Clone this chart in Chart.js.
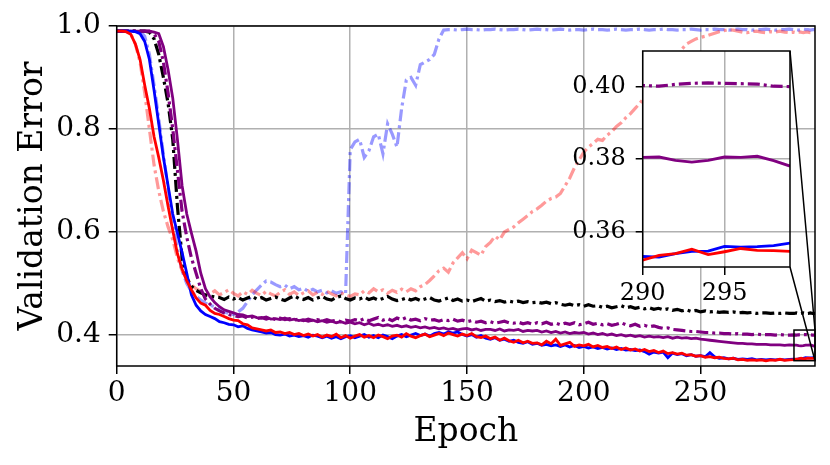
<!DOCTYPE html>
<html>
<head>
<meta charset="utf-8">
<script src="https://cdn.jsdelivr.net/npm/chart.js@4.4.0/dist/chart.umd.min.js"></script>
<style>
  html, body { margin: 0; padding: 0; background: #fff; }
  #wrap { position: relative; width: 830px; height: 465px; }
  #wrap canvas { position: absolute; left: 0; top: 0; }
</style>
</head>
<body>
<div id="wrap">
  <canvas id="mainChart" width="830" height="465"></canvas>
  <canvas id="insetChart" width="830" height="465"></canvas>
</div>
<script>
// epochs: every 2nd epoch up to 288, then every epoch in the zoomed window
const epochs = [];
for (let e = 0; e < 290; e += 2) epochs.push(e);
for (let e = 290; e < 300; e++) epochs.push(e);

const xTicks = [0, 50, 100, 150, 200, 250];
const yTicks = [0.4, 0.6, 0.8, 1.0];
const insetXTicks = [290, 295];
const insetYTicks = [0.36, 0.38, 0.40];
const zoomX = [290, 299];
const zoomY = [0.3503, 0.4098];

const redSolid = [
  0.990, 0.990, 0.989, 0.984, 0.965, 0.935, 0.885, 0.840, 0.785, 0.745,
  0.700, 0.650, 0.603, 0.558, 0.528, 0.505, 0.488, 0.472, 0.462, 0.458,
  0.448, 0.442, 0.440, 0.436, 0.432, 0.429, 0.428, 0.422, 0.420, 0.414,
  0.412, 0.410, 0.408, 0.410, 0.405, 0.406, 0.403, 0.405, 0.401, 0.403,
  0.399, 0.402, 0.398, 0.401, 0.396, 0.400, 0.397, 0.402, 0.395, 0.399,
  0.394, 0.398, 0.401, 0.396, 0.399, 0.395, 0.400, 0.397, 0.393, 0.398,
  0.400, 0.396, 0.403, 0.398, 0.395, 0.399, 0.402, 0.397, 0.400, 0.403,
  0.399, 0.404, 0.401, 0.398, 0.402, 0.399, 0.403, 0.397, 0.395, 0.398,
  0.393, 0.396, 0.390, 0.394, 0.389, 0.386, 0.390, 0.385, 0.388, 0.384,
  0.385, 0.381, 0.388, 0.383, 0.392, 0.380, 0.383, 0.386, 0.378, 0.381,
  0.379, 0.382, 0.377, 0.380, 0.376, 0.378, 0.374, 0.377, 0.372, 0.375,
  0.371, 0.373, 0.369, 0.372, 0.368, 0.370, 0.366, 0.369, 0.364, 0.366,
  0.363, 0.365, 0.361, 0.362, 0.359, 0.360, 0.357, 0.358, 0.356, 0.357,
  0.355, 0.354, 0.355, 0.352, 0.353, 0.351, 0.352, 0.351, 0.352, 0.350,
  0.352, 0.351, 0.353, 0.351, 0.352,
  0.3522, 0.3535, 0.3540, 0.3552, 0.3537, 0.3545, 0.3554, 0.3549, 0.3548, 0.3546
];

const blueSolid = [
  0.990, 0.990, 0.990, 0.990, 0.989, 0.985, 0.970, 0.935, 0.875, 0.810,
  0.745, 0.690, 0.635, 0.598, 0.560, 0.520, 0.478, 0.458, 0.447, 0.440,
  0.436, 0.432, 0.426, 0.424, 0.421, 0.420, 0.416, 0.418, 0.413, 0.410,
  0.408, 0.406, 0.404, 0.405, 0.401, 0.400, 0.402, 0.398, 0.400, 0.397,
  0.399, 0.396, 0.400, 0.398, 0.395, 0.398, 0.394, 0.397, 0.393, 0.397,
  0.399, 0.395, 0.398, 0.401, 0.396, 0.399, 0.395, 0.400, 0.397, 0.393,
  0.398, 0.401, 0.397, 0.400, 0.403, 0.399, 0.402, 0.398, 0.403, 0.405,
  0.402, 0.406, 0.404, 0.406, 0.401, 0.398, 0.401, 0.396, 0.399, 0.394,
  0.392, 0.395, 0.390, 0.392, 0.388, 0.390, 0.386, 0.384, 0.387, 0.382,
  0.384, 0.380, 0.382, 0.379, 0.381, 0.378, 0.381, 0.377, 0.380, 0.376,
  0.378, 0.375, 0.377, 0.374, 0.376, 0.373, 0.375, 0.372, 0.374, 0.371,
  0.372, 0.370, 0.371, 0.368, 0.363, 0.367, 0.365, 0.367, 0.356, 0.365,
  0.362, 0.364, 0.360, 0.362, 0.359, 0.360, 0.358, 0.366, 0.358, 0.355,
  0.356, 0.354, 0.355, 0.353, 0.354, 0.353, 0.354, 0.352, 0.353, 0.352,
  0.353, 0.352, 0.353, 0.352, 0.353,
  0.3532, 0.3530, 0.3540, 0.3546, 0.3547, 0.3560, 0.3558, 0.3559, 0.3562, 0.3569
];

const purpleSolid = [
  0.990, 0.990, 0.990, 0.990, 0.990, 0.990, 0.990, 0.990, 0.988, 0.985,
  0.960, 0.915, 0.860, 0.780, 0.690, 0.635, 0.598, 0.563, 0.520, 0.490,
  0.474, 0.463, 0.455, 0.449, 0.446, 0.443, 0.440, 0.439, 0.436, 0.437,
  0.434, 0.433, 0.435, 0.431, 0.432, 0.430, 0.433, 0.429, 0.431, 0.428,
  0.430, 0.427, 0.429, 0.426, 0.428, 0.425, 0.427, 0.424, 0.426, 0.423,
  0.425, 0.422, 0.424, 0.420, 0.423, 0.419, 0.421, 0.418, 0.420, 0.417,
  0.419, 0.416, 0.418, 0.415, 0.417, 0.414, 0.416, 0.413, 0.415, 0.412,
  0.414, 0.411, 0.413, 0.410, 0.412, 0.413, 0.410, 0.412, 0.409, 0.411,
  0.411, 0.409, 0.412, 0.408, 0.410, 0.409, 0.411, 0.407, 0.409, 0.408,
  0.409, 0.406, 0.408, 0.405, 0.407, 0.404, 0.406, 0.403, 0.405, 0.404,
  0.405, 0.402, 0.404, 0.401, 0.403, 0.400, 0.402, 0.399, 0.401, 0.398,
  0.400, 0.397, 0.399, 0.396, 0.398, 0.396, 0.397, 0.395, 0.397, 0.394,
  0.396, 0.394, 0.395, 0.393, 0.394, 0.392, 0.391, 0.390, 0.389, 0.388,
  0.387, 0.386, 0.385, 0.384, 0.384, 0.383, 0.383, 0.382, 0.382, 0.382,
  0.381, 0.381, 0.381, 0.380, 0.381,
  0.3805, 0.3806, 0.3797, 0.3792, 0.3797, 0.3806, 0.3805, 0.3808, 0.3796, 0.3781
];

const purpleDashDot = [
  0.990, 0.990, 0.990, 0.990, 0.990, 0.990, 0.990, 0.990, 0.985, 0.970,
  0.930, 0.870, 0.800, 0.720, 0.640, 0.590, 0.550, 0.520, 0.490, 0.470,
  0.460, 0.452, 0.447, 0.443, 0.440, 0.438, 0.436, 0.437, 0.433, 0.435,
  0.432, 0.434, 0.431, 0.434, 0.430, 0.433, 0.430, 0.432, 0.429, 0.431,
  0.428, 0.431, 0.428, 0.430, 0.427, 0.430, 0.427, 0.429, 0.426, 0.429,
  0.427, 0.430, 0.428, 0.432, 0.428, 0.431, 0.434, 0.429, 0.432, 0.428,
  0.433, 0.430, 0.434, 0.429, 0.431, 0.428, 0.432, 0.429, 0.430, 0.427,
  0.430, 0.428, 0.431, 0.427, 0.429, 0.426, 0.428, 0.425, 0.427, 0.424,
  0.426, 0.423, 0.425, 0.427, 0.424, 0.423, 0.425, 0.422, 0.424, 0.421,
  0.424, 0.422, 0.425, 0.421, 0.423, 0.420, 0.423, 0.421, 0.424, 0.420,
  0.422, 0.425, 0.421, 0.423, 0.420, 0.422, 0.419, 0.421, 0.424, 0.420,
  0.418, 0.421, 0.417, 0.419, 0.416, 0.418, 0.415, 0.413, 0.414, 0.411,
  0.410, 0.409, 0.408, 0.407, 0.407, 0.406, 0.405, 0.405, 0.404, 0.404,
  0.403, 0.403, 0.402, 0.403, 0.402, 0.402, 0.401, 0.402, 0.401, 0.401,
  0.401, 0.400, 0.401, 0.400, 0.400,
  0.4003, 0.4001, 0.4006, 0.4009, 0.4010, 0.4009, 0.4008, 0.4007, 0.4001, 0.4000
];

const blackDashDot = [
  0.990, 0.990, 0.990, 0.990, 0.990, 0.990, 0.990, 0.988, 0.975, 0.945,
  0.900, 0.850, 0.780, 0.650, 0.550, 0.510, 0.495, 0.487, 0.482, 0.478,
  0.476, 0.474, 0.473, 0.469, 0.474, 0.470, 0.473, 0.468, 0.472, 0.475,
  0.470, 0.473, 0.468, 0.471, 0.474, 0.470, 0.467, 0.472, 0.476, 0.471,
  0.469, 0.473, 0.468, 0.472, 0.475, 0.470, 0.468, 0.473, 0.476, 0.471,
  0.468, 0.472, 0.470, 0.474, 0.469, 0.472, 0.468, 0.471, 0.475, 0.470,
  0.467, 0.469, 0.472, 0.468, 0.471, 0.467, 0.470, 0.473, 0.468, 0.466,
  0.469, 0.472, 0.467, 0.470, 0.466, 0.468, 0.465, 0.468, 0.471, 0.466,
  0.468, 0.465, 0.467, 0.464, 0.466, 0.464, 0.466, 0.463, 0.465, 0.463,
  0.464, 0.462, 0.464, 0.461, 0.463, 0.460, 0.458, 0.460, 0.457, 0.459,
  0.456, 0.459, 0.456, 0.457, 0.454, 0.456, 0.453, 0.455, 0.457, 0.453,
  0.455, 0.452, 0.454, 0.451, 0.453, 0.450, 0.452, 0.449, 0.451, 0.448,
  0.450, 0.447, 0.449, 0.446, 0.448, 0.445, 0.447, 0.445, 0.446, 0.444,
  0.445, 0.444, 0.445, 0.443, 0.444, 0.443, 0.444, 0.442, 0.443, 0.443,
  0.442, 0.443, 0.442, 0.443, 0.442,
  0.442, 0.443, 0.442, 0.442, 0.443, 0.442, 0.442, 0.443, 0.442, 0.442
];

const redFaded = [
  0.990, 0.990, 0.990, 0.985, 0.965, 0.930, 0.870, 0.800, 0.730, 0.680,
  0.640, 0.610, 0.585, 0.550, 0.525, 0.510, 0.497, 0.490, 0.485, 0.483,
  0.480, 0.486, 0.478, 0.483, 0.488, 0.481, 0.476, 0.484, 0.479, 0.487,
  0.481, 0.477, 0.485, 0.480, 0.476, 0.483, 0.488, 0.479, 0.484, 0.477,
  0.482, 0.486, 0.478, 0.483, 0.479, 0.485, 0.480, 0.476, 0.482, 0.478,
  0.475, 0.480, 0.478, 0.486, 0.482, 0.490, 0.484, 0.488, 0.481, 0.487,
  0.483, 0.489, 0.484, 0.490, 0.486, 0.494, 0.498, 0.506, 0.515, 0.525,
  0.530, 0.522, 0.540, 0.550, 0.560, 0.548, 0.565, 0.560, 0.555, 0.572,
  0.580, 0.592, 0.585, 0.600, 0.605, 0.610, 0.618, 0.625, 0.632, 0.640,
  0.645, 0.652, 0.660, 0.665, 0.668, 0.675, 0.690, 0.705, 0.725, 0.740,
  0.755, 0.765, 0.772, 0.780, 0.778, 0.788, 0.795, 0.805, 0.812, 0.822,
  0.830, 0.840, 0.850, 0.862, 0.872, 0.882, 0.892, 0.905, 0.915, 0.925,
  0.935, 0.955, 0.965, 0.970, 0.975, 0.978, 0.980, 0.983, 0.986, 0.989,
  0.991, 0.993, 0.992, 0.990, 0.988, 0.987, 0.989, 0.990, 0.988, 0.987,
  0.989, 0.988, 0.990, 0.988, 0.987,
  0.988, 0.987, 0.988, 0.988, 0.987, 0.988, 0.988, 0.987, 0.987, 0.988
];

const blueFaded = [
  0.990, 0.990, 0.990, 0.990, 0.990, 0.990, 0.980, 0.945, 0.885, 0.820,
  0.750, 0.685, 0.620, 0.565, 0.525, 0.500, 0.485, 0.475, 0.468, 0.462,
  0.458, 0.455, 0.450, 0.445, 0.442, 0.440, 0.445, 0.452, 0.465, 0.478,
  0.488, 0.497, 0.505, 0.503, 0.498, 0.494, 0.497, 0.490, 0.494, 0.488,
  0.491, 0.485, 0.489, 0.484, 0.487, 0.482, 0.486, 0.481, 0.484, 0.480,
  0.760, 0.775, 0.780, 0.745, 0.758, 0.785, 0.790, 0.752, 0.810, 0.790,
  0.765, 0.840, 0.895, 0.900, 0.885, 0.925, 0.930, 0.935, 0.945, 0.975,
  0.992, 0.993, 0.993, 0.992, 0.993, 0.994, 0.993, 0.993, 0.992, 0.993,
  0.993, 0.994, 0.993, 0.992, 0.993, 0.993, 0.994, 0.993, 0.992, 0.993,
  0.994, 0.993, 0.993, 0.992, 0.993, 0.994, 0.993, 0.992, 0.993, 0.993,
  0.992, 0.993, 0.994, 0.993, 0.993, 0.992, 0.993, 0.994, 0.993, 0.992,
  0.993, 0.993, 0.994, 0.993, 0.992, 0.993, 0.993, 0.994, 0.993, 0.993,
  0.992, 0.993, 0.993, 0.994, 0.993, 0.992, 0.993, 0.993, 0.994, 0.993,
  0.993, 0.992, 0.993, 0.994, 0.993, 0.993, 0.992, 0.993, 0.993, 0.994,
  0.993, 0.992, 0.993, 0.993, 0.994,
  0.993, 0.993, 0.992, 0.993, 0.994, 0.993, 0.993, 0.992, 0.993, 0.993
];

// drawing order: first entry ends up on top
const dashDot = [12, 4, 3, 4];
const series = [
  { values: redSolid,      color: '#ff0000',              width: 2.8, dash: [] },
  { values: blueSolid,     color: '#0000ff',              width: 2.8, dash: [] },
  { values: purpleSolid,   color: '#800080',              width: 2.8, dash: [] },
  { values: purpleDashDot, color: '#800080',              width: 3.2, dash: dashDot },
  { values: blackDashDot,  color: '#000000',              width: 3.2, dash: dashDot },
  { values: redFaded,      color: 'rgba(255,0,0,0.4)',    width: 3.2, dash: dashDot },
  { values: blueFaded,     color: 'rgba(0,0,255,0.4)',    width: 3.2, dash: dashDot }
];

function makeDatasets() {
  return series.map(s => ({
    data: epochs.map((e, i) => ({ x: e, y: s.values[i] })),
    borderColor: s.color,
    borderWidth: s.width,
    borderDash: s.dash,
    pointRadius: 0,
    tension: 0,
    fill: false,
    clip: 0
  }));
}

Chart.defaults.font.family = "'DejaVu Serif', serif";
Chart.defaults.color = '#000';

const framePlugin = {
  id: 'frame',
  afterDraw(chart) {
    const { ctx, chartArea: a } = chart;
    ctx.save();
    ctx.strokeStyle = '#000';
    ctx.lineWidth = 1.5;
    ctx.strokeRect(a.left, a.top, a.right - a.left, a.bottom - a.top);
    ctx.restore();
  }
};

// rectangle showing the zoomed region
const zoomBoxPlugin = {
  id: 'zoomBox',
  afterDatasetsDraw(chart) {
    const { ctx, scales: { x, y } } = chart;
    const l = x.getPixelForValue(zoomX[0]), r = x.getPixelForValue(zoomX[1]);
    const t = y.getPixelForValue(zoomY[1]), b = y.getPixelForValue(zoomY[0]);
    ctx.save();
    ctx.strokeStyle = '#000';
    ctx.lineWidth = 1.5;
    ctx.strokeRect(l, t, r - l, b - t);
    ctx.restore();
  }
};

const mainChart = new Chart(document.getElementById('mainChart'), {
  type: 'line',
  data: { datasets: makeDatasets() },
  options: {
    responsive: false,
    animation: false,
    layout: { padding: { left: 0, right: 15, top: 26, bottom: 0 } },
    plugins: { legend: { display: false }, tooltip: { enabled: false } },
    scales: {
      x: {
        type: 'linear', min: 0, max: 299,
        afterBuildTicks: s => { s.ticks = xTicks.map(v => ({ value: v })); },
        afterFit: s => { s.height = 99; },
        grid: { color: '#b0b0b0', lineWidth: 1.5, tickLength: 8, tickColor: '#000', tickWidth: 1.5 },
        border: { display: false },
        ticks: { font: { size: 28 }, padding: 3, maxRotation: 0, autoSkip: false },
        title: { display: true, text: 'Epoch', font: { size: 33 }, padding: { top: 0, bottom: 13 } }
      },
      y: {
        min: 0.34, max: 1.0,
        afterBuildTicks: s => { s.ticks = yTicks.map(v => ({ value: v })); },
        afterFit: s => { s.width = 116.7; },
        grid: { color: '#b0b0b0', lineWidth: 1.5, tickLength: 8, tickColor: '#000', tickWidth: 1.5 },
        border: { display: false },
        ticks: { font: { size: 28 }, padding: 8, autoSkip: false, callback: v => v.toFixed(1) },
        title: { display: true, text: 'Validation Error', font: { size: 33 }, padding: { top: 14, bottom: 0 } }
      }
    }
  },
  plugins: [framePlugin, zoomBoxPlugin]
});

const insetPlugin = {
  id: 'insetDecor',
  beforeDraw(chart) {
    const { ctx, chartArea: a } = chart;
    ctx.save();
    ctx.fillStyle = '#fff';
    ctx.fillRect(a.left, a.top, a.right - a.left, a.bottom - a.top);
    ctx.restore();
  },
  afterDraw(chart) {
    // connector lines from the inset to the zoom box
    const { ctx, chartArea: a } = chart;
    const mx = mainChart.scales.x, my = mainChart.scales.y;
    const bx = mx.getPixelForValue(zoomX[1]);
    const bt = my.getPixelForValue(zoomY[1]), bb = my.getPixelForValue(zoomY[0]);
    ctx.save();
    ctx.strokeStyle = '#000';
    ctx.lineWidth = 1.5;
    ctx.beginPath();
    ctx.moveTo(a.right, a.top); ctx.lineTo(bx, bt);
    ctx.moveTo(a.right, a.bottom); ctx.lineTo(bx, bb);
    ctx.stroke();
    ctx.restore();
  }
};

new Chart(document.getElementById('insetChart'), {
  type: 'line',
  data: { datasets: makeDatasets() },
  options: {
    responsive: false,
    animation: false,
    layout: { padding: { left: 572.7, right: 40, top: 51, bottom: 158 } },
    plugins: { legend: { display: false }, tooltip: { enabled: false } },
    scales: {
      x: {
        type: 'linear', min: zoomX[0], max: zoomX[1],
        afterBuildTicks: s => { s.ticks = insetXTicks.map(v => ({ value: v })); },
        afterFit: s => { s.height = 40; },
        grid: { color: '#b0b0b0', lineWidth: 1.5, tickLength: 8, tickColor: '#000', tickWidth: 1.5 },
        border: { display: false },
        ticks: { font: { size: 24 }, padding: 4, maxRotation: 0, autoSkip: false }
      },
      y: {
        min: zoomY[0], max: zoomY[1],
        afterBuildTicks: s => { s.ticks = insetYTicks.map(v => ({ value: v })); },
        afterFit: s => { s.width = 70; },
        grid: { color: '#b0b0b0', lineWidth: 1.5, tickLength: 7, tickColor: '#000', tickWidth: 1.5 },
        border: { display: false },
        ticks: { font: { size: 24 }, padding: 10, autoSkip: false, callback: v => v.toFixed(2) }
      }
    }
  },
  plugins: [insetPlugin, framePlugin]
});
</script>
</body>
</html>
